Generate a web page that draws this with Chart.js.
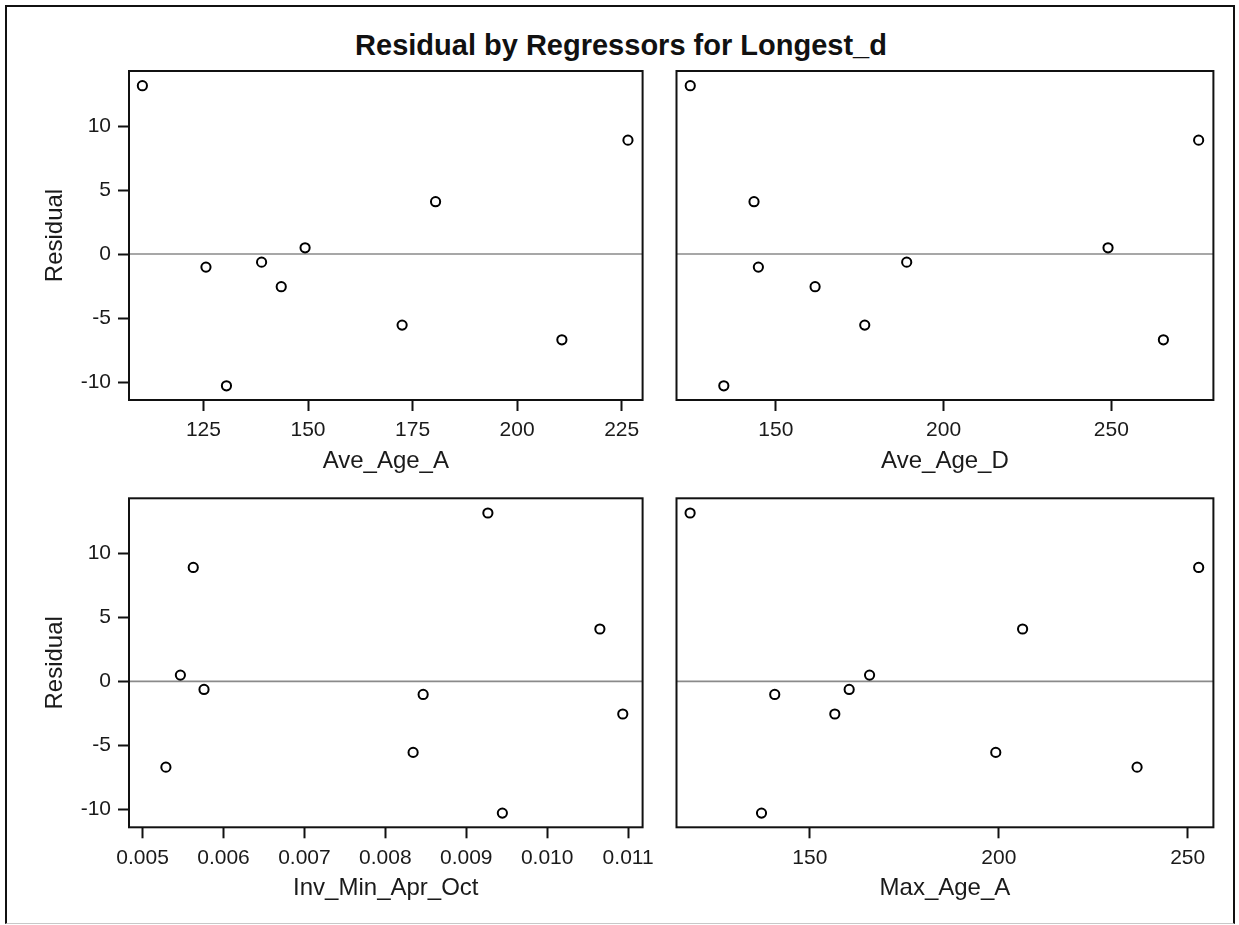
<!DOCTYPE html>
<html>
<head>
<meta charset="utf-8">
<title>Residual by Regressors for Longest_d</title>
<script src="https://cdn.jsdelivr.net/npm/chart.js@4.4.1/dist/chart.umd.min.js"></script>
<style>
  html, body { margin: 0; padding: 0; background: #fff; }
  #page { position: relative; width: 1239px; height: 925px; overflow: hidden; background: #fff; }
  #border { position: absolute; left: 5px; top: 5px; width: 1226px; height: 916px;
            border-left: 2px solid #111; border-top: 2px solid #111; border-right: 2px solid #111;
            border-bottom: 1px solid #c8c8c8; }
  #title { position: absolute; left: 0; width: 1242px; top: 29px; line-height: 29px; text-align: center;
           font: bold 29px "Liberation Sans", Arial, sans-serif; color: #111; white-space: nowrap; }
  canvas { position: absolute; }
</style>
</head>
<body>
<div id="page">
  <div id="border"></div>
  <div id="title">Residual by Regressors for Longest_d</div>
  <canvas id="c1" width="650" height="430" style="left:10px;top:60px;"></canvas>
  <canvas id="c2" width="575" height="430" style="left:660px;top:60px;"></canvas>
  <canvas id="c3" width="650" height="430" style="left:10px;top:490px;"></canvas>
  <canvas id="c4" width="575" height="430" style="left:660px;top:490px;"></canvas>
</div>
<script>
// Residuals of the Longest_d fit, one entry per observation
const residual     = [13.15, 8.9, 4.09, 0.49, -0.63, -1.02, -2.55, -5.55, -6.70, -10.29];
// Regressor values for the same observations
const aveAgeA      = [110.4, 226.5, 180.5, 149.3, 138.9, 125.6, 143.6, 172.5, 210.7, 130.5];
const aveAgeD      = [124.5, 276.0, 143.5, 249.0, 189.0, 144.8, 161.7, 176.5, 265.5, 134.5];
const invMinAprOct = [0.009267, 0.005626, 0.010651, 0.005467, 0.005759, 0.008467, 0.010934, 0.008343, 0.005288, 0.009446];
const maxAgeA      = [118.3, 252.9, 206.3, 165.8, 160.4, 140.7, 156.6, 199.2, 236.6, 137.2];

// Tick values
const residualTicks = [-10, -5, 0, 5, 10];
const aveAgeATicks  = [125, 150, 175, 200, 225];
const aveAgeDTicks  = [150, 200, 250];
const invTicks      = [0.005, 0.006, 0.007, 0.008, 0.009, 0.010, 0.011];
const maxAgeATicks  = [150, 200, 250];

const FONT = '"Liberation Sans", Arial, sans-serif';
const INK = '#1a1a1a';

// Box around each plot area
const frame = {
  id: 'frame',
  afterDatasetsDraw(chart) {
    const a = chart.chartArea, ctx = chart.ctx;
    ctx.save();
    ctx.strokeStyle = '#111';
    ctx.lineWidth = 2;
    ctx.strokeRect(a.left, a.top, a.right - a.left, a.bottom - a.top);
    ctx.restore();
  }
};

function makePanel(id, xs, cfg) {
  const pts = xs.map((x, i) => ({ x: x, y: residual[i] }));
  return new Chart(document.getElementById(id), {
    type: 'scatter',
    data: {
      datasets: [
        {
          data: [{ x: cfg.xMin, y: 0 }, { x: cfg.xMax, y: 0 }],
          showLine: true, borderColor: '#8a8a8a', borderWidth: 1.6,
          pointRadius: 0, order: 2
        },
        {
          data: pts, pointStyle: 'circle', pointRadius: 4.6, pointBorderWidth: 2,
          pointBorderColor: '#000', pointBackgroundColor: 'rgba(255,255,255,0)', order: 1
        }
      ]
    },
    options: {
      responsive: false, animation: false, devicePixelRatio: 1,
      layout: { padding: cfg.padding },
      plugins: { legend: { display: false }, tooltip: { enabled: false } },
      scales: {
        x: {
          type: 'linear', min: cfg.xMin, max: cfg.xMax,
          afterBuildTicks: s => { s.ticks = cfg.xTicks.map(v => ({ value: v })); },
          afterFit: s => { s.height = cfg.xHeight; s.paddingLeft = 0; s.paddingRight = 0; },
          grid: { display: true, drawOnChartArea: false, drawTicks: true, tickLength: 11, tickColor: '#111', tickWidth: 2 },
          border: { display: false },
          ticks: { color: INK, padding: 7, maxRotation: 0, autoSkip: false,
                   font: { family: FONT, size: 21 }, callback: cfg.xFmt },
          title: { display: true, text: cfg.xTitle, color: INK, font: { family: FONT, size: 24 },
                   padding: { top: 0, bottom: cfg.titlePad } }
        },
        y: {
          type: 'linear', min: -11.4, max: 14.3, display: cfg.showY,
          afterBuildTicks: s => { s.ticks = residualTicks.map(v => ({ value: v })); },
          afterFit: s => { s.width = cfg.showY ? 119 : 0; s.paddingTop = 0; s.paddingBottom = 0; },
          grid: { display: true, drawOnChartArea: false, drawTicks: true, tickLength: 11, tickColor: '#111', tickWidth: 2 },
          border: { display: false },
          ticks: { color: INK, padding: 7, font: { family: FONT, size: 21 }, callback: v => String(v) },
          title: { display: true, text: 'Residual', color: INK, font: { family: FONT, size: 24 },
                   padding: { top: 31, bottom: 0 } }
        }
      }
    },
    plugins: [frame]
  });
}

const intFmt = v => String(v);

makePanel('c1', aveAgeA, {
  xMin: 107.2, xMax: 230.0, xTicks: aveAgeATicks, xFmt: intFmt, xTitle: 'Ave_Age_A',
  showY: true, xHeight: 90, titlePad: 14, padding: { top: 11, right: 17.4, left: 0, bottom: 0 }
});
makePanel('c2', aveAgeD, {
  xMin: 120.4, xMax: 280.4, xTicks: aveAgeDTicks, xFmt: intFmt, xTitle: 'Ave_Age_D',
  showY: false, xHeight: 90, titlePad: 14, padding: { top: 11, right: 21.6, left: 16.5, bottom: 0 }
});
makePanel('c3', invMinAprOct, {
  xMin: 0.004832, xMax: 0.011179, xTicks: invTicks, xFmt: v => v.toFixed(3), xTitle: 'Inv_Min_Apr_Oct',
  showY: true, xHeight: 92.7, titlePad: 17, padding: { top: 8.3, right: 17.4, left: 0, bottom: 0 }
});
makePanel('c4', maxAgeA, {
  xMin: 114.7, xMax: 256.8, xTicks: maxAgeATicks, xFmt: intFmt, xTitle: 'Max_Age_A',
  showY: false, xHeight: 92.7, titlePad: 17, padding: { top: 8.3, right: 21.6, left: 16.5, bottom: 0 }
});
</script>
</body>
</html>
